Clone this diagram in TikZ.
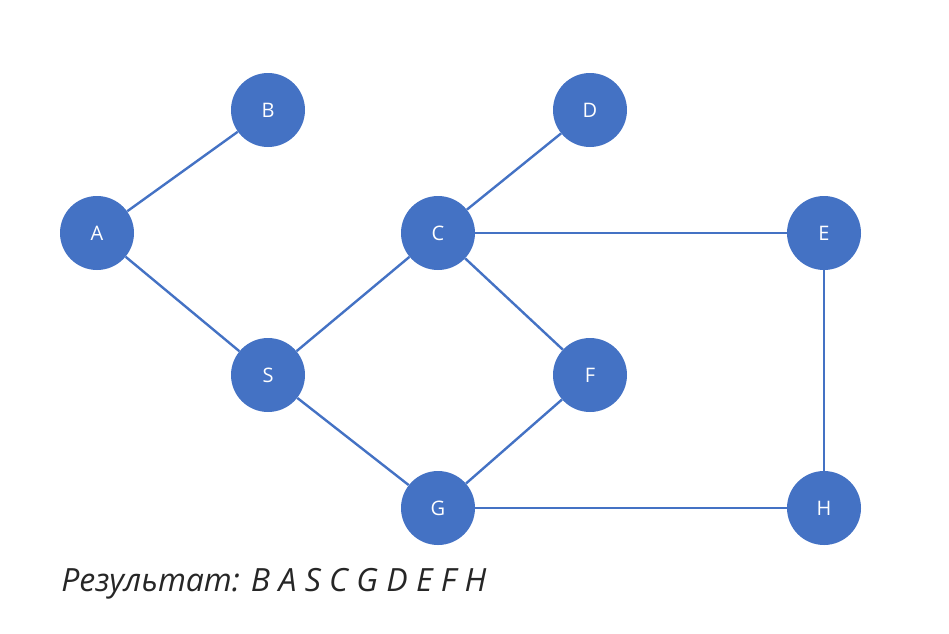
\documentclass[tikz,border=0pt]{standalone}
\usepackage{fontspec}
\setmainfont{Open Sans}
\usepackage{tikz}
\definecolor{nodeblue}{HTML}{4472C4}
\definecolor{txtgray}{HTML}{262626}
\tikzset{v/.style={circle,fill=nodeblue,minimum size=55.5pt,inner sep=0pt,text=white,font=\fontsize{15}{15}\selectfont}}
\tikzset{e/.style={draw=nodeblue,line width=1.8pt}}

\begin{document}
\begin{tikzpicture}[x=0.75pt,y=-0.75pt]
          \useasboundingbox (0,0) rectangle (949,633);
          \node[v] (B) at (268,110) {B};
          \node[v] (D) at (590,110) {D};
          \node[v] (A) at (97,233) {A}
            edge [e] (B);
          \node[v] (C) at (438,233) {C}
            edge [e] (D);
          \node[v] (E) at (824,233) {E}
            edge [e] (C);
          \node[v] (S) at (268,375) {S}
            edge [e] (A)
            edge [e] (C);
          \node[v] (F) at (590,375) {F}
            edge [e] (C);
          \node[v] (G) at (438,508) {G}
            edge [e] (S)
            edge [e] (F);
          \node[v] (H) at (824,508) {H}
            edge [e] (G)
            edge [e] (E);
          \node[anchor=base west,inner sep=0pt,text=txtgray,font=\fontsize{24}{24}\selectfont\itshape] (res) at (61,591) {Результат: B A S C G D E F H};
        \end{tikzpicture}
\end{document}
